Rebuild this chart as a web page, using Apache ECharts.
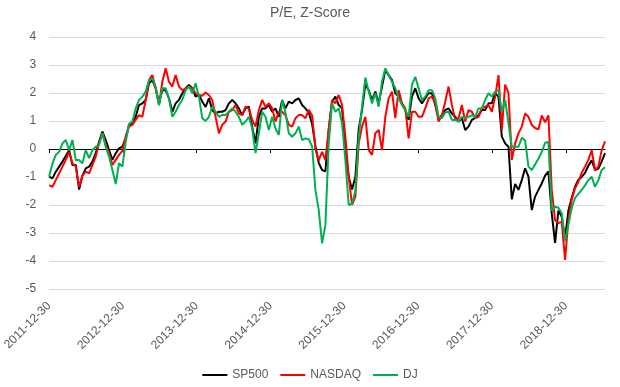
<!DOCTYPE html>
<html>
<head>
<meta charset="utf-8">
<script src="https://cdn.jsdelivr.net/npm/echarts@6/dist/echarts.min.js"></script>
<style>
html,body{margin:0;padding:0;background:#fff;}
#chart{width:620px;height:387px;}
</style>
</head>
<body>
<div id="chart"></div>
<script>
// Sampling step between points, in years (~16.5 days), starting 2011-12-30
const STEP_YEARS = 0.0451;
const yearTicks = [0, 1, 2, 3, 4, 5, 6, 7];
const yearLabels = ['2011-12-30','2012-12-30','2013-12-30','2014-12-30','2015-12-30','2016-12-30','2017-12-30','2018-12-30'];
const seriesNames = ['SP500', 'NASDAQ', 'DJ'];

const sp500 = [
-0.99,-1.05,-0.81,-0.63,-0.45,-0.25,-0.04,-0.57,-0.57,-1.45,
-0.95,-0.69,-0.63,-0.45,-0.15,0.26,0.62,0.32,-0.04,-0.39,
-0.15,0.02,0.08,0.40,0.85,0.92,1.15,1.57,1.63,1.75,
2.35,2.46,2.17,1.63,2.10,2.10,1.81,1.33,1.63,1.75,
1.99,2.17,2.29,2.17,1.87,1.93,1.70,1.50,1.81,1.39,
1.27,1.33,1.33,1.39,1.63,1.75,1.63,1.45,1.21,1.45,
1.51,0.80,0.20,1.15,1.45,1.45,1.57,1.33,1.45,1.15,
1.75,1.45,1.69,1.63,1.75,1.81,1.57,1.45,1.30,0.90,
0.10,-0.50,-0.75,-0.80,0.70,1.69,1.87,1.57,1.45,0.00,
-1.00,-1.45,-1.00,0.70,1.40,2.30,2.10,1.75,2.05,1.63,
2.23,2.82,2.64,2.46,1.99,1.87,1.63,1.39,1.04,1.87,
2.17,1.81,1.63,1.81,1.99,1.99,1.57,1.10,1.21,1.39,
1.45,1.27,1.15,0.98,1.10,0.68,0.80,1.04,1.10,1.21,
1.39,1.39,1.63,1.63,1.99,1.87,0.44,0.20,0.08,-1.80,
-1.25,-1.46,-1.11,-0.69,-0.99,-2.18,-1.70,-1.46,-1.23,-0.95,
-0.80,-2.30,-3.35,-2.20,-2.42,-3.20,-2.20,-1.75,-1.35,-1.10,
-1.00,-0.85,-0.60,-0.40,-0.75,-0.70,-0.45,-0.15
];

const nasdaq = [
-1.29,-1.35,-1.11,-0.87,-0.63,-0.39,-0.10,-0.51,-0.63,-1.35,
-0.95,-0.81,-0.87,-0.57,-0.27,0.20,0.56,0.14,-0.15,-0.57,
-0.39,-0.21,-0.07,0.45,0.80,0.86,1.04,1.21,1.15,1.75,
2.46,2.64,2.17,1.57,2.40,2.88,2.40,2.23,2.64,2.23,
2.10,2.17,2.23,2.17,1.99,1.93,1.90,2.02,1.93,1.75,
1.15,0.56,0.86,0.98,1.33,1.39,1.57,1.27,1.21,1.51,
1.45,1.04,0.80,1.39,1.75,1.51,1.63,1.45,0.98,1.33,
1.33,1.20,0.86,0.80,1.10,1.21,1.21,1.10,1.40,1.20,
0.00,-0.40,-0.10,-0.40,0.70,1.75,1.63,1.93,1.57,0.45,
-1.00,-2.00,-1.70,0.20,0.80,1.15,-0.04,-0.21,0.56,0.68,
-0.04,1.15,1.81,2.05,1.10,2.10,1.63,1.45,0.38,1.33,
1.33,1.15,1.15,1.45,1.81,1.87,1.63,0.98,1.20,1.70,
2.23,1.57,1.04,1.10,1.57,0.98,1.39,1.33,1.10,1.15,
1.45,1.51,1.57,1.33,1.87,2.64,0.68,2.30,2.00,-0.39,
0.20,0.56,0.80,1.27,1.15,0.86,0.75,0.70,1.20,0.95,
1.20,-1.46,-2.54,-2.65,-2.60,-3.96,-2.54,-1.80,-1.40,-1.17,
-0.85,-0.63,-0.39,-0.04,-0.75,-0.63,-0.04,0.27
];

const dj = [
-0.99,-0.51,-0.21,-0.10,0.20,0.32,-0.04,0.32,-0.39,-0.39,
-0.51,-0.04,-0.33,-0.04,0.08,0.14,0.56,0.08,-0.27,-0.75,
-1.25,-0.51,-0.63,0.25,0.90,0.98,1.45,1.75,1.87,2.05,
2.46,2.52,2.23,1.57,2.17,2.17,1.81,1.15,1.33,1.57,
1.75,2.10,2.23,1.99,2.35,1.87,1.10,1.00,1.15,1.51,
1.33,1.15,1.21,1.21,1.33,1.45,1.33,1.15,0.86,0.98,
1.15,0.74,-0.15,0.56,1.33,1.15,0.68,1.15,0.74,0.50,
1.75,1.30,0.56,0.44,0.56,0.80,0.32,0.38,0.35,0.10,
-1.46,-2.18,-3.37,-2.71,0.20,1.63,1.33,1.45,0.92,-0.40,
-2.00,-1.95,-1.50,0.40,1.50,2.55,2.05,1.63,1.99,1.51,
2.40,2.88,2.64,2.40,2.17,1.81,1.57,1.39,1.15,2.29,
2.58,2.17,1.75,1.87,2.10,2.10,1.81,1.15,1.10,1.30,
1.33,1.04,1.04,0.98,1.15,1.10,1.15,1.21,1.15,1.45,
1.45,1.75,1.99,1.87,2.05,2.10,1.33,1.75,0.92,0.08,
0.08,0.08,0.40,0.30,-0.63,-0.75,-0.55,-0.35,-0.10,0.22,
0.25,-2.20,-2.06,-2.10,-2.30,-3.30,-2.70,-2.10,-1.75,-1.60,
-1.46,-1.30,-1.11,-0.99,-1.35,-1.11,-0.75,-0.65
];

const colors = ['#000000', '#FF0000', '#00B050'];
const allSeries = [sp500, nasdaq, dj];
const xMax = (sp500.length - 1) * STEP_YEARS;
const FONT = "'Liberation Sans', Arial, sans-serif";

function toPoints(arr) {
  return arr.map(function (v, i) { return [i * STEP_YEARS, v]; });
}

const chart = echarts.init(document.getElementById('chart'), null, {renderer: 'canvas'});
chart.setOption({
  animation: false,
  backgroundColor: '#ffffff',
  title: {
    text: 'P/E, Z-Score',
    left: 'center',
    top: 6,
    padding: 0,
    textStyle: {fontFamily: FONT, fontSize: 14, fontWeight: 'normal', color: '#595959'}
  },
  legend: {
    data: seriesNames,
    left: 'center',
    top: 364,
    icon: 'rect',
    itemWidth: 25,
    itemHeight: 2,
    itemGap: 12,
    textStyle: {fontFamily: FONT, fontSize: 12, color: '#595959'}
  },
  grid: {left: 48, right: 15, top: 37, bottom: 98, containLabel: false},
  xAxis: [
    {
      type: 'value',
      min: 0,
      max: xMax,
      position: 'bottom',
      axisLine: {show: false, onZero: false},
      axisTick: {show: false},
      splitLine: {show: false},
      axisLabel: {
        customValues: yearTicks,
        rotate: 45,
        margin: 15,
        fontFamily: FONT,
        fontSize: 12,
        color: '#595959',
        formatter: function (v) { return yearLabels[Math.round(v)]; }
      }
    },
    {
      type: 'value',
      min: 0,
      max: xMax,
      position: 'bottom',
      axisLine: {show: true, onZero: true, lineStyle: {color: '#000000', width: 1}},
      axisTick: {show: true, customValues: yearTicks, length: 4, lineStyle: {color: '#000000'}},
      splitLine: {show: false},
      axisLabel: {show: false}
    }
  ],
  yAxis: {
    type: 'value',
    min: -5,
    max: 4,
    interval: 1,
    axisLine: {show: false},
    axisTick: {show: false},
    splitLine: {show: true, lineStyle: {color: '#d9d9d9', width: 1}},
    axisLabel: {margin: 13, fontFamily: FONT, fontSize: 12, color: '#595959'}
  },
  series: allSeries.map(function (arr, k) {
    return {
      name: seriesNames[k],
      type: 'line',
      xAxisIndex: 0,
      data: toPoints(arr),
      showSymbol: false,
      symbol: 'none',
      lineStyle: {color: colors[k], width: 2},
      itemStyle: {color: colors[k]},
      z: 2 + k
    };
  })
});
</script>
</body>
</html>
